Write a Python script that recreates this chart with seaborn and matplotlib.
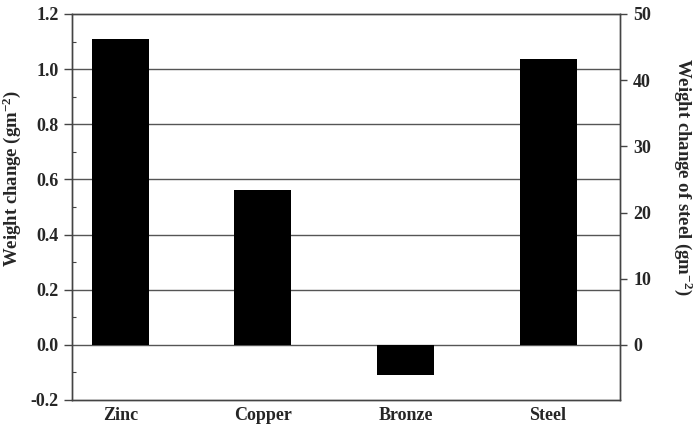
import matplotlib
matplotlib.use("Agg")
import matplotlib.pyplot as plt
from matplotlib.ticker import MultipleLocator
import seaborn as sns
import pandas as pd

categories = ["Zinc", "Copper", "Bronze", "Steel"]
left_cats = ["Zinc", "Copper", "Bronze"]
left_values = [1.11, 0.562, -0.111]
steel_cats = ["Steel"]
steel_values = [43.2]

left_ticks = [-0.2, 0.0, 0.2, 0.4, 0.6, 0.8, 1.0, 1.2]
right_ticks = [0, 10, 20, 30, 40, 50]

sns.set_style("white")
plt.rcParams["font.family"] = ["Liberation Serif", "DejaVu Serif"]
plt.rcParams["font.weight"] = "bold"
plt.rcParams["mathtext.fontset"] = "custom"
plt.rcParams["mathtext.rm"] = "Liberation Serif:bold"
plt.rcParams["mathtext.it"] = "Liberation Serif:bold"
plt.rcParams["mathtext.bf"] = "Liberation Serif:bold"

FS = 13
LFS = 13.5
fig = plt.figure(figsize=(6.97, 4.25), dpi=100)
ax = fig.add_axes([72/697, 1-400/425, (620-72)/697, (400-14)/425])

df_left = pd.DataFrame({"cat": left_cats, "val": left_values})
df_steel = pd.DataFrame({"cat": steel_cats, "val": steel_values})

for t in left_ticks[1:-1]:
    ax.axhline(t, color="#555555", lw=1.0, zorder=0)

sns.barplot(data=df_left, x="cat", y="val", order=categories, color="black",
            width=0.4, ax=ax, saturation=1, zorder=2, linewidth=0, edgecolor="black")
ax.set_ylim(-0.2, 1.2)
ax.set_yticks(left_ticks)
ax.set_yticklabels([f"{t:.1f}" for t in left_ticks])
ax.yaxis.set_minor_locator(MultipleLocator(0.1))
ax.set_xlim(-0.34, 3.505)

ax2 = ax.twinx()
sns.barplot(data=df_steel, x="cat", y="val", order=categories, color="black",
            width=0.4, ax=ax2, saturation=1, zorder=2, linewidth=0, edgecolor="black")
ax2.set_ylim(-0.2*50/1.2, 50)
ax2.set_yticks(right_ticks)
ax2.set_xlim(-0.34, 3.505)

ax.set_xlabel("")
ax2.set_xlabel("")
ax.set_ylabel("Weight change (gm$^{-2}$)", fontsize=LFS, fontweight="bold", va="center")
ax.yaxis.set_label_coords((12-72)/548, (400-178)/386)
ax2.set_ylabel("Weight change of steel (gm$^{-2}$)", fontsize=LFS, fontweight="bold",
               rotation=270, va="center")
ax2.yaxis.set_label_coords((683-72)/548, (400-177)/386)

for a in (ax, ax2):
    for s in a.spines.values():
        s.set_color("#444444")
        s.set_linewidth(1.0)
        s.set_visible(True)

ax.tick_params(axis="y", which="major", direction="out", length=6, width=1,
               color="#444444", labelsize=FS, left=True, pad=3.5)
ax.tick_params(axis="y", which="minor", direction="in", length=3, width=0.8,
               color="#444444", left=True)
ax.tick_params(axis="x", length=0, labelsize=FS, pad=5)
ax2.tick_params(axis="y", direction="out", length=5, width=1, color="#444444",
                labelsize=FS, right=True, pad=4.5)
for lab in ax.get_xticklabels() + ax.get_yticklabels() + ax2.get_yticklabels():
    lab.set_fontweight("bold")

fig.savefig("out.png", dpi=100)
